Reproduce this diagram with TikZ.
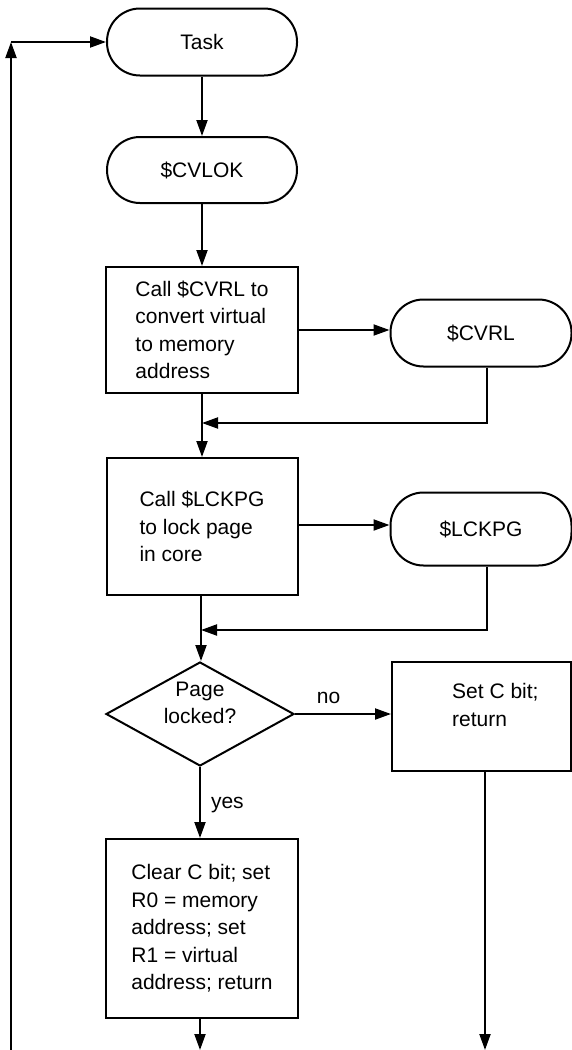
\documentclass[tikz,border=0pt]{standalone}
\usepackage{fontspec}
\setmainfont{Liberation Sans}
\usetikzlibrary{arrows.meta,shapes.geometric,calc}
\begin{document}
\begin{tikzpicture}[x=1pt,y=-1pt,
  every node/.style={font=\fontsize{21}{27.5}\selectfont},
  term/.style={draw,line width=2pt,rectangle,rounded corners=33pt,minimum width=190pt,minimum height=67pt,inner sep=0pt},
  proc/.style={draw,line width=2pt,rectangle,align=left,inner sep=0pt},
  dec/.style={draw,line width=2pt,diamond,aspect=1.8,minimum width=188pt,minimum height=104pt,inner sep=0pt},
  lbl/.style={inner sep=0pt,align=center},
  arr/.style={line width=2pt,-{Triangle[length=16pt,width=11pt]}},
  ln/.style={line width=2pt}]
\useasboundingbox (0,0) rectangle (572,1050);
\fill[white] (0,0) rectangle (572,1050);

\node[term] (task) at (202,42) {Task};
\node[term,minimum height=66pt] (cvlok) at (202,170) {\$CVLOK};
\node[proc,minimum width=192pt,minimum height=126pt] (box1) at (202,330)
  {Call \$CVRL to\\convert virtual\\to memory\\address};
\node[term,minimum width=181pt] (cvrl) at (481,333) {\$CVRL};
\node[proc,minimum width=191pt,minimum height=137pt] (box2) at (202,526.5)
  {Call \$LCKPG\\to lock page\\in core};
\node[term,minimum width=181pt,minimum height=73pt] (lckpg) at (481,529) {\$LCKPG};
\node[dec] (dia) at (200,714) {};
\node[lbl] (diat) at (200,703) {Page\\locked?};
\node[proc,minimum width=179pt,minimum height=109pt] (rbox) at (481.5,716.5) {};
\node[lbl,align=left,anchor=west] (rboxt) at (452,705) {Set C bit;\\return};
\node[proc,minimum width=192pt,minimum height=179pt] (box3) at (202,928.5)
  {Clear C bit; set\\R0 = memory\\address; set\\R1 = virtual\\address; return};

\coordinate (lb) at (11,1050);
\coordinate (lc) at (11,42);
\coordinate (j1) at (202,423);
\coordinate (j2) at (201,630);
\coordinate (e3) at (200,1050);
\coordinate (e4) at (485,1050);

\draw[arr] (lb) -- (lc);
\draw[arr] (lc) -- (task.west);
\draw[arr] (task.south) -- (cvlok.north);
\draw[arr] (cvlok.south) -- (box1.north);
\draw[arr] (box1.east |- 0,330) -- (cvrl.west |- 0,330);
\draw[ln] (box1.south) -- (j1);
\draw[arr] (cvrl.south -| 487,0) |- (j1);
\draw[arr] (j1) -- (box2.north);
\draw[arr] (box2.east |- 0,525) -- (lckpg.west |- 0,525);
\draw[ln] (box2.south -| j2) -- (j2);
\draw[arr] (lckpg.south -| 487,0) |- (j2);
\draw[arr] (j2) -- (j2 |- dia.north);
\draw[arr] (dia.east) -- (dia.east -| rbox.west) node[lbl,pos=0.35,above=9pt] (no) {no};
\draw[arr] (dia.south) -- (box3.north -| dia.south) node[lbl,pos=0.5,right=10pt,yshift=-3pt] (yes) {yes};
\draw[arr] (box3.south -| e3) -- (e3);
\draw[arr] (rbox.south -| e4) -- (e4);
\draw[gray!40,line width=0.8pt] (lb) -- (e4);
\end{tikzpicture}
\end{document}
